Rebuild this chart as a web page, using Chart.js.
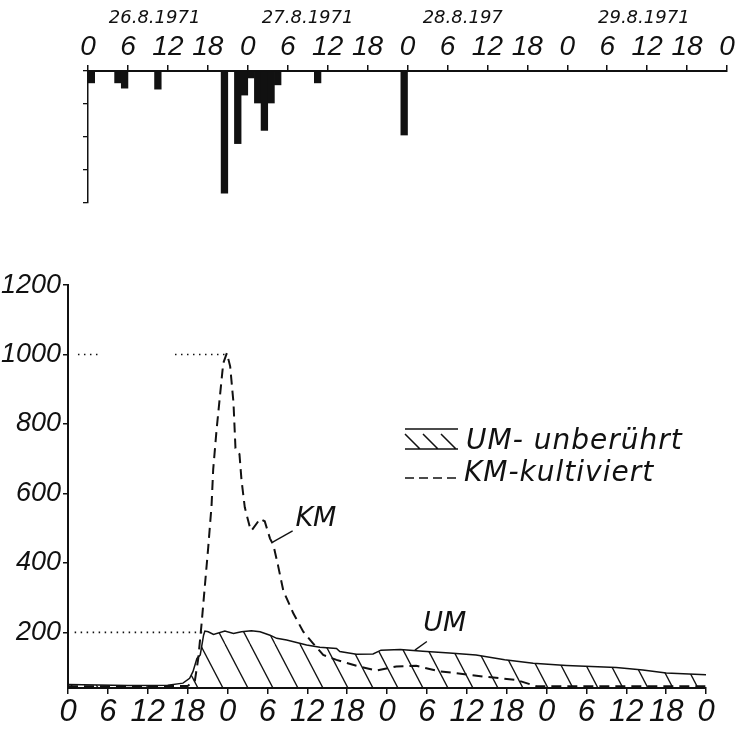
<!DOCTYPE html>
<html>
<head>
<meta charset="utf-8">
<script src="https://cdn.jsdelivr.net/npm/chart.js@4.4.1/dist/chart.umd.min.js"></script>
<style>
    html, body { margin: 0; padding: 0; background: #fff; }
    #wrap { position: relative; width: 737px; height: 738px; }
    canvas { position: absolute; left: 0; }
    #rain-chart { top: 0; }
    #flow-chart { top: 260px; }
</style>
</head>
<body>
<div id="wrap">
    <canvas id="rain-chart" width="737" height="215"></canvas>
    <canvas id="flow-chart" width="737" height="478"></canvas>
</div>
<script>
// hourly rain, 26.8.1971 0h .. 29.8.1971 24h (96 hours)
const rainHourly = [
    3.6, 0, 0, 0, 3.6, 5.2, 0, 0, 0, 0, 5.5, 0, 0, 0, 0, 0, 0, 0, 0, 0, 37, 0, 22, 7.3,
    2.1, 9.7, 18, 9.7, 4.2, 0, 0, 0, 0, 0, 3.6, 0, 0, 0, 0, 0, 0, 0, 0, 0, 0, 0, 0, 19.4,
    0, 0, 0, 0, 0, 0, 0, 0, 0, 0, 0, 0, 0, 0, 0, 0, 0, 0, 0, 0, 0, 0, 0, 0,
    0, 0, 0, 0, 0, 0, 0, 0, 0, 0, 0, 0, 0, 0, 0, 0, 0, 0, 0, 0, 0, 0, 0, 0
];
const hourTicks = [0, 6, 12, 18, 24, 30, 36, 42, 48, 54, 60, 66, 72, 78, 84, 90, 96];
const hourTickLabels = ['0', '6', '12', '18', '0', '6', '12', '18', '0', '6', '12', '18', '0', '6', '12', '18', '0'];
const dayCenters = [10, 33, 56.3, 83.5];
const dayLabels = ['26.8.1971', '27.8.1971', '28.8.197', '29.8.1971'];

// discharge, UM = untouched, KM = cultivated
const umHours = [0, 9, 15, 17.3, 18.3, 18.8, 19.4, 19.9, 20.4, 20.6, 21.1, 21.9, 23.6, 24.9, 26.1, 27.6, 28.9, 30.4, 31.4, 32.9, 33.8, 35.9,
    37.9, 40.4, 40.9, 43.4, 45.9, 47.1, 50, 53.4, 57.4, 61.4, 65.7, 70, 75, 82.5, 86.5, 90, 96];
const umFlow = [50, 47, 48, 54, 68, 87, 125, 135, 192, 204, 202, 194, 204, 197, 202, 205, 202, 192, 183, 178, 174, 164,
    157, 154, 145, 137, 138, 149, 151, 146, 141, 135, 121, 111, 105, 99, 92, 83, 78];
const kmHours = [0, 12, 18, 18.6, 19.1, 19.6, 20.1, 20.6, 21.1, 21.6, 21.85, 22.36, 22.86, 23.36, 23.9, 24.4, 24.9, 25.2, 25.8, 26.1,
    26.6, 27.4, 27.6, 28.9, 29.6, 30.4, 30.9, 31.6, 32.4, 33.9, 35.4, 36.9, 38.4, 40.4, 43.4, 46.4, 49.4, 52.4, 55.9, 58.4,
    62.4, 65, 67.5, 70.5, 96];
const kmFlow = [45, 45, 46, 55, 62, 125, 225, 335, 445, 565, 670, 784, 880, 975, 1004, 966, 861, 730, 713, 640,
    560, 500, 493, 527, 520, 470, 452, 393, 320, 255, 202, 168, 135, 121, 104, 90, 102, 104, 88, 83,
    73, 68, 63, 45, 45];
const flowTicks = [200, 400, 600, 800, 1000, 1200];

// dotted guides: [from hour, to hour, level]
const guideLines = [[1.5, 4.5, 1000], [16.1, 23.9, 1000], [1, 20.2, 200]];

const INK = '#111';
const NUMS = "'Liberation Sans', Arial, sans-serif";
const PLAIN = "'DejaVu Sans', 'Liberation Sans', sans-serif";

function hatchPattern(ctx) {
    const w = 25, h = 48;
    const c = document.createElement('canvas');
    c.width = w; c.height = h;
    const g = c.getContext('2d');
    g.strokeStyle = INK;
    g.lineWidth = 1.3;
    [-w, 0, w].forEach(dx => {
        g.beginPath();
        g.moveTo(dx, 0);
        g.lineTo(dx + w, h);
        g.stroke();
    });
    return ctx.createPattern(c, 'repeat');
}

// ---------- rain (top) ----------
const rainCtx = document.getElementById('rain-chart').getContext('2d');
new Chart(rainCtx, {
    type: 'bar',
    data: {
        labels: rainHourly.map((_, i) => i),
        datasets: [{ data: rainHourly, backgroundColor: INK, barPercentage: 1, categoryPercentage: 1, xAxisID: 'xb', yAxisID: 'y' }]
    },
    options: {
        responsive: false,
        animation: false,
        layout: { padding: { top: 0, right: 10, bottom: 12, left: 0 } },
        plugins: { legend: { display: false }, tooltip: { enabled: false } },
        scales: {
            xb: { type: 'category', display: false, offset: true },
            xh: {
                type: 'linear', position: 'top', min: 0, max: 96, weight: 1, offset: false,
                afterBuildTicks: s => { s.ticks = hourTicks.map(v => ({ value: v })); },
                afterFit: s => { s.height = 40; },
                ticks: { autoSkip: false, maxRotation: 0, padding: 1, color: INK,
                    font: { family: NUMS, size: 28, style: 'italic' },
                    callback: (v, i) => hourTickLabels[i] },
                grid: { drawOnChartArea: false, offset: false, tickLength: 6, color: INK, lineWidth: 1.5 },
                border: { color: INK, width: 2 }
            },
            xd: {
                type: 'linear', position: 'top', min: 0, max: 96, weight: 2, offset: false,
                afterBuildTicks: s => { s.ticks = dayCenters.map(v => ({ value: v })); },
                afterFit: s => { s.height = 31; },
                ticks: { autoSkip: false, maxRotation: 0, padding: 2, color: INK,
                    font: { family: PLAIN, size: 18, style: 'italic' },
                    callback: (v, i) => dayLabels[i] },
                grid: { display: false, drawTicks: false, offset: false },
                border: { display: false }
            },
            y: {
                reverse: true, min: 0, max: 40,
                afterFit: s => { s.width = 88; },
                ticks: { stepSize: 10, display: false },
                grid: { drawOnChartArea: false, tickLength: 5, color: INK, lineWidth: 1.3 },
                border: { color: INK, width: 1.5 }
            }
        }
    }
});

// ---------- discharge (bottom) ----------
const notes = {
    id: 'notes',
    afterDatasetsDraw(chart) {
        const { ctx, scales: { x, y } } = chart;
        ctx.save();
        ctx.strokeStyle = INK;
        ctx.fillStyle = INK;

        ctx.lineWidth = 1.6;
        ctx.setLineDash([1.5, 4.5]);
        guideLines.forEach(([h0, h1, v]) => {
            ctx.beginPath();
            ctx.moveTo(x.getPixelForValue(h0), y.getPixelForValue(v));
            ctx.lineTo(x.getPixelForValue(h1), y.getPixelForValue(v));
            ctx.stroke();
        });
        ctx.setLineDash([]);

        // curve names with leader strokes
        ctx.lineWidth = 1.4;
        ctx.font = `italic 27px ${PLAIN}`;
        ctx.textAlign = 'center';
        ctx.textBaseline = 'middle';
        ctx.fillText('KM', x.getPixelForValue(37.3), y.getPixelForValue(527));
        ctx.beginPath();
        ctx.moveTo(x.getPixelForValue(33.8), y.getPixelForValue(492));
        ctx.lineTo(x.getPixelForValue(30.8), y.getPixelForValue(460));
        ctx.stroke();
        ctx.fillText('UM', x.getPixelForValue(56.7), y.getPixelForValue(223));
        ctx.beginPath();
        ctx.moveTo(x.getPixelForValue(54), y.getPixelForValue(174));
        ctx.lineTo(x.getPixelForValue(52.2), y.getPixelForValue(149));
        ctx.stroke();

        // legend
        const lx = 405, lw = 53;
        ctx.lineWidth = 1.5;
        ctx.beginPath();
        ctx.moveTo(lx, 169); ctx.lineTo(lx + lw, 169);
        ctx.moveTo(lx, 189); ctx.lineTo(lx + lw, 189);
        [0, 18, 36].forEach(d => { ctx.moveTo(lx + d, 174); ctx.lineTo(lx + d + 15, 189); });
        ctx.stroke();
        ctx.setLineDash([9, 5]);
        ctx.beginPath();
        ctx.moveTo(lx, 218); ctx.lineTo(lx + lw, 218);
        ctx.stroke();
        ctx.setLineDash([]);
        ctx.font = `italic 28px ${PLAIN}`;
        ctx.letterSpacing = '1px';
        ctx.textAlign = 'left';
        ctx.fillText('UM- unberührt', 466, 182);
        ctx.fillText('KM-kultiviert', 464, 214);
        ctx.restore();
    }
};

const flowCtx = document.getElementById('flow-chart').getContext('2d');
new Chart(flowCtx, {
    type: 'line',
    data: {
        datasets: [
            { label: 'UM- unberührt', data: umHours.map((h, i) => ({ x: h, y: umFlow[i] })),
              borderColor: INK, borderWidth: 1.5, backgroundColor: hatchPattern(flowCtx), fill: 'start',
              pointRadius: 0, tension: 0 },
            { label: 'KM-kultiviert', data: kmHours.map((h, i) => ({ x: h, y: kmFlow[i] })),
              borderColor: INK, borderWidth: 2, borderDash: [10, 6], fill: false,
              pointRadius: 0, tension: 0 }
        ]
    },
    options: {
        responsive: false,
        animation: false,
        layout: { padding: { top: 25, right: 31, bottom: 0, left: 0 } },
        plugins: { legend: { display: false }, tooltip: { enabled: false } },
        scales: {
            x: {
                type: 'linear', min: 0, max: 96,
                afterBuildTicks: s => { s.ticks = hourTicks.map(v => ({ value: v })); },
                afterFit: s => { s.height = 50; },
                ticks: { autoSkip: false, maxRotation: 0, padding: 0, color: INK,
                    font: { family: NUMS, size: 31, style: 'italic' },
                    callback: (v, i) => hourTickLabels[i] },
                grid: { drawOnChartArea: false, tickLength: 6, color: INK, lineWidth: 1.5 },
                border: { color: INK, width: 2 }
            },
            y: {
                min: 40, max: 1200,
                afterBuildTicks: s => { s.ticks = flowTicks.map(v => ({ value: v })); },
                afterFit: s => { s.width = 68; },
                ticks: { padding: 2, color: INK, font: { family: NUMS, size: 27, style: 'italic' },
                    callback: v => String(v) },
                grid: { drawOnChartArea: false, tickLength: 5, color: INK, lineWidth: 1.5 },
                border: { color: INK, width: 2 }
            }
        }
    },
    plugins: [notes]
});
</script>
</body>
</html>
